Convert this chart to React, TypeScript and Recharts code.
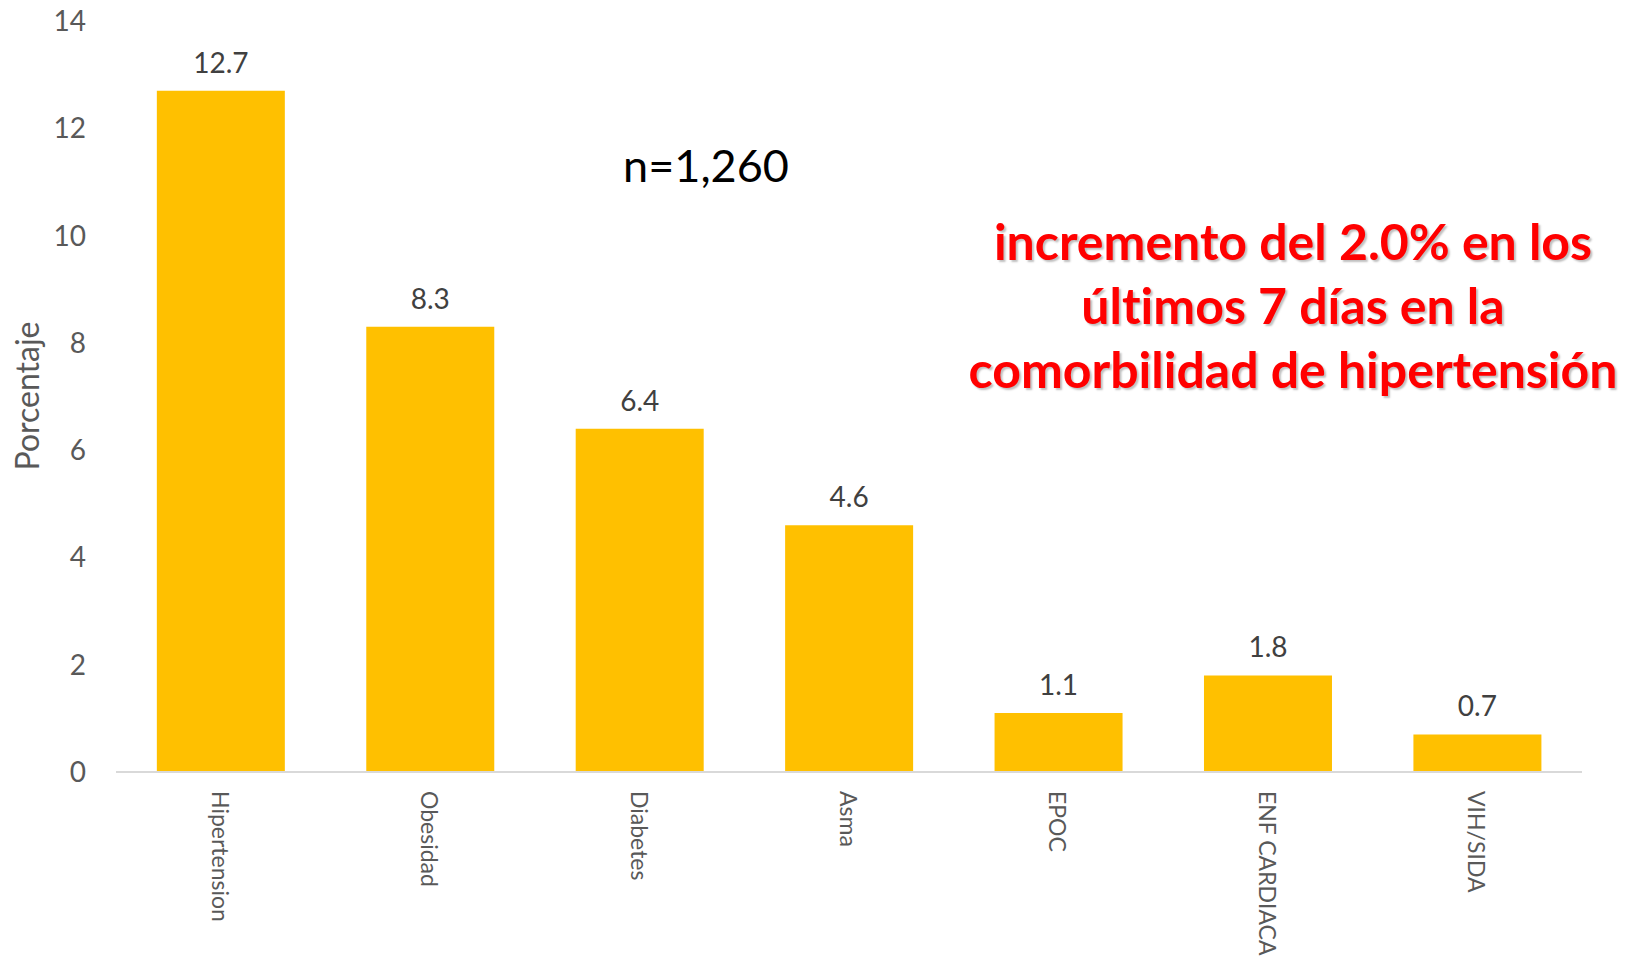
import React from 'react';
import { BarChart, Bar, XAxis, YAxis, LabelList, Label } from 'recharts';

const categories = ['Hipertension', 'Obesidad', 'Diabetes', 'Asma', 'EPOC', 'ENF CARDIACA', 'VIH/SIDA'];
const values = [12.7, 8.3, 6.4, 4.6, 1.1, 1.8, 0.7];
const yTicks = [0, 2, 4, 6, 8, 10, 12, 14];
const noteLines = ['incremento del 2.0% en los', 'últimos 7 días en la', 'comorbilidad de hipertensión'];

const data = categories.map((name, i) => ({ name, value: values[i] }));

const FONT = 'Lato, "Open Sans", sans-serif';

const CategoryTick = (props: any) => {
  const { x, y, payload } = props;
  return (
    <text
      x={x}
      y={y + 11}
      transform={`rotate(90, ${x}, ${y + 11})`}
      textAnchor="start"
      dominantBaseline="central"
      fill="#595959"
      fontSize={23}
      fontFamily={FONT}
    >
      {payload.value}
    </text>
  );
};

const App: React.FC = () => {
  return (
    <div style={{ position: 'absolute', left: 0, top: 0, width: 1632, height: 959, background: '#fff' }}>
      <BarChart
        width={1632}
        height={959}
        data={data}
        margin={{ top: 21, right: 50, bottom: 0, left: 0 }}
        barCategoryGap="19.5%"
      >
        <XAxis
          dataKey="name"
          interval={0}
          height={187}
          tick={<CategoryTick />}
          tickLine={false}
          axisLine={{ stroke: '#d9d9d9', strokeWidth: 2 }}
        />
        <YAxis
          width={116}
          domain={[0, 14]}
          ticks={yTicks}
          axisLine={false}
          tickLine={false}
          tickSize={0}
          tickMargin={30}
          tick={{ fill: '#595959', fontSize: 28, fontFamily: FONT }}
        >
          <Label
            content={() => (
              <text
                x={26}
                y={396}
                transform="rotate(-90, 26, 396)"
                textAnchor="middle"
                dominantBaseline="central"
                fill="#595959"
                fontSize={32}
                fontFamily={FONT}
              >
                Porcentaje
              </text>
            )}
          />
        </YAxis>
        <Bar dataKey="value" fill="#ffc000" isAnimationActive={false}>
          <LabelList
            dataKey="value"
            position="top"
            offset={18}
            fill="#404040"
            fontSize={28}
            fontFamily={FONT}
          />
        </Bar>
      </BarChart>
      <div
        style={{
          position: 'absolute',
          left: 706,
          top: 165,
          transform: 'translate(-50%, -50%)',
          fontFamily: FONT,
          fontSize: 45,
          color: '#000',
          whiteSpace: 'nowrap',
        }}
      >
        n=1,260
      </div>
      <div
        style={{
          position: 'absolute',
          left: 1293,
          top: 305,
          transform: 'translate(-50%, -50%)',
          fontFamily: FONT,
          fontWeight: 700,
          fontSize: 50,
          lineHeight: '64px',
          color: '#ff0000',
          textAlign: 'center',
          whiteSpace: 'nowrap',
          fontVariantLigatures: 'none',
          textShadow: '2px 2px 2px rgba(0,0,0,0.25)',
        }}
      >
        {noteLines.map((line) => (
          <div key={line}>{line}</div>
        ))}
      </div>
    </div>
  );
};

export default App;
